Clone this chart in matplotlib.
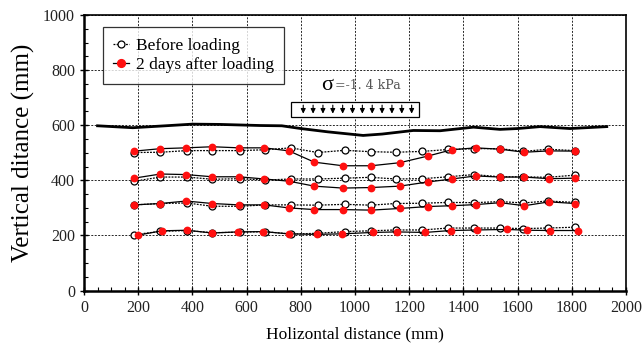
import matplotlib
matplotlib.use("Agg")
import matplotlib.pyplot as plt
from matplotlib.ticker import MultipleLocator
from matplotlib.lines import Line2D
from matplotlib.patches import Rectangle

plt.rcParams['font.family'] = ['Liberation Serif', 'DejaVu Serif']

# ---- data ----
x_after = [185, 282, 377, 473, 572, 665, 756, 850, 955, 1060, 1165, 1268, 1357, 1445, 1536, 1625, 1716, 1812]
x_before = [186, 282, 380, 473, 574, 669, 764, 862, 962, 1058, 1150, 1248, 1344, 1439, 1535, 1621, 1711, 1812]

row1_before = [501, 502, 508, 508, 508, 511, 518, 501, 509, 504, 502, 505, 512, 515, 515, 505, 513, 508]
row1_after = [506, 515, 518, 522, 518, 518, 507, 466, 453, 453, 464, 488, 511, 518, 513, 502, 507, 506]

row2_before = [397, 412, 412, 404, 406, 401, 405, 405, 408, 411, 405, 406, 413, 421, 413, 413, 411, 419]
row2_after = [408, 423, 421, 413, 413, 405, 397, 379, 372, 374, 379, 394, 405, 416, 412, 412, 406, 408]

row3_before = [311, 316, 318, 306, 306, 311, 311, 310, 313, 310, 316, 317, 320, 319, 323, 318, 325, 320]
row3_after = [311, 316, 325, 316, 311, 311, 300, 294, 294, 292, 298, 305, 308, 312, 319, 308, 322, 316]

x_after4 = [198, 288, 379, 473, 568, 660, 756, 858, 953, 1065, 1154, 1258, 1353, 1451, 1560, 1634, 1720, 1824]
row4_before = [203, 215, 218, 210, 212, 214, 205, 208, 214, 217, 220, 220, 227, 227, 227, 225, 227, 230]
row4_after = [201, 217, 219, 209, 213, 214, 206, 204, 206, 211, 213, 211, 218, 220, 222, 219, 218, 218]

surface_x = [50, 180, 300, 400, 500, 650, 730, 800, 900, 1000, 1030, 1100, 1215, 1314, 1437, 1535, 1600, 1683, 1793, 1929]
surface_y = [598, 591, 598, 604, 603, 599, 598, 588, 576, 566, 563, 568, 581, 580, 593, 585, 588, 595, 588, 595]

load_x0, load_x1 = 764, 1237
load_y0, load_y1 = 631, 683
arrow_x0, arrow_x1 = 809, 1209

fig = plt.figure(figsize=(6.42, 3.47), dpi=100)
ax = fig.add_axes([84/642, 1-290.6/347, 542/642, (290.6-15)/347])

ax.set_xlim(0, 2000)
ax.set_ylim(0, 1000)
ax.xaxis.set_major_locator(MultipleLocator(200))
ax.xaxis.set_minor_locator(MultipleLocator(50))
ax.yaxis.set_major_locator(MultipleLocator(200))
ax.yaxis.set_minor_locator(MultipleLocator(50))
ax.tick_params(which='major', direction='inout', length=6, width=1, labelsize=11.5,
               colors='black', labelcolor='#222222')
ax.tick_params(which='minor', direction='in', length=3, width=0.8)
ax.grid(True, which='major', color='black', linestyle=(0, (2, 1.5)), linewidth=0.7, alpha=0.85)
for s in ax.spines.values():
    s.set_linewidth(1.2)
ax.spines['left'].set_linewidth(1.8)
ax.spines['bottom'].set_linewidth(1.8)

ms = 5.0
rows = [(row1_before, row1_after, x_after), (row2_before, row2_after, x_after),
        (row3_before, row3_after, x_after), (row4_before, row4_after, x_after4)]
for yb, ya, xa in rows:
    ax.plot(x_before, yb, linestyle=(0, (1.5, 1)), color='black', linewidth=0.9,
            marker='o', markersize=ms, markerfacecolor='white', markeredgecolor='black',
            markeredgewidth=0.9, zorder=3)
    ax.plot(xa, ya, linestyle='-', color='black', linewidth=0.9,
            marker='o', markersize=ms+0.6, markerfacecolor='#ff1010', markeredgecolor='#ff1010',
            markeredgewidth=0, zorder=4)

ax.plot(surface_x, surface_y, color='black', linewidth=2.0, zorder=3)

# load box
ax.add_patch(Rectangle((load_x0, load_y0), load_x1-load_x0, load_y1-load_y0,
                       facecolor='white', edgecolor='black', linewidth=0.9, zorder=5))
n_arrows = 12
for i in range(n_arrows):
    xa_ = arrow_x0 + i*(arrow_x1-arrow_x0)/(n_arrows-1)
    ax.annotate('', xy=(xa_, load_y0+1), xytext=(xa_, load_y1),
                arrowprops=dict(arrowstyle='-|>', color='black', lw=0.8, mutation_scale=7),
                zorder=6)
ax.text(897, 746, 'σ', fontsize=16, ha='center', va='center', color='black', zorder=6)
ax.text(926, 743, '=-1. 4 kPa', fontsize=9, ha='left', va='center', color='#555555', zorder=6,
        family=['DejaVu Serif'])

# legend
h1 = Line2D([], [], linestyle=(0, (1.5, 1)), color='black', linewidth=0.9, marker='o',
            markersize=ms, markerfacecolor='white', markeredgecolor='black', markeredgewidth=0.9)
h2 = Line2D([], [], linestyle='-', color='black', linewidth=0.9, marker='o',
            markersize=ms+0.6, markerfacecolor='#ff1010', markeredgecolor='#ff1010')
leg = ax.legend([h1, h2], ['Before loading', '2 days after loading'], loc='upper left',
                bbox_to_anchor=(0.035, 0.956), fontsize=12.5, frameon=True, fancybox=False,
                edgecolor='black', handlelength=0.9, handletextpad=0.4, borderpad=0.6,
                labelspacing=0.2, markerfirst=True, borderaxespad=0)
leg.get_frame().set_linewidth(0.9)
leg.set_zorder(10)

ax.set_xlabel('Holizontal distance (mm)', fontsize=12.5, labelpad=8)
ax.set_ylabel('Vertical ditance (mm)', fontsize=18, labelpad=6)

fig.savefig('out.png', dpi=100)
